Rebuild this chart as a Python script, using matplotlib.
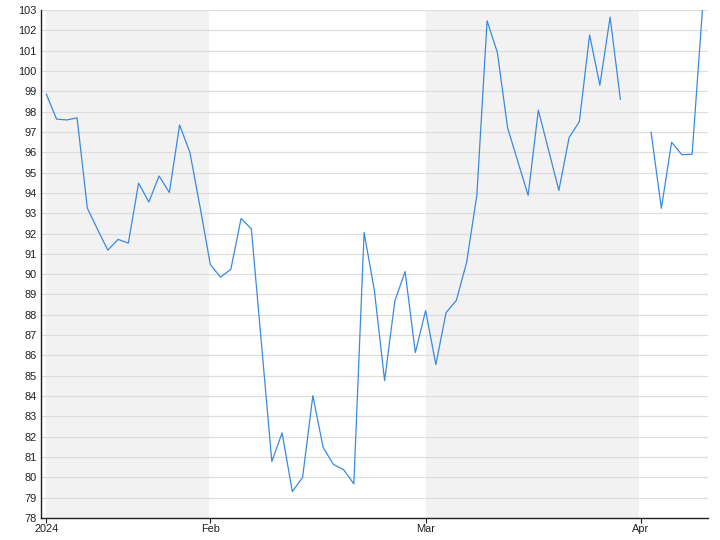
import numpy as np
import pandas as pd
import matplotlib
matplotlib.use("Agg")
import matplotlib.pyplot as plt

# Business-day dates (Jan 10 - Apr 9, 2024); NaN marks market holidays
dates = pd.bdate_range("2024-01-10", "2024-04-09")
values = [
    98.86, 97.63, 97.59, 97.69, 93.25, 92.2, 91.18, 91.71, 91.53, 94.48,
    93.55, 94.83, 94.02, 97.34, 96.0, 93.3,
    90.47, 89.85, 90.24, 92.74, 92.23, 86.5, 80.78, 82.19, 79.3, 80.0,
    84.02, 81.48, 80.64, 80.38, 79.68, 92.05, 89.21, 84.76, 88.68, 90.13,
    86.14,
    88.21, 85.55, 88.11, 88.71, 90.57, 93.89, 102.47, 100.91, 97.2, 95.54,
    93.88, 98.07, 96.1, 94.12, 96.72, 97.51, 101.77, 99.3, 102.65, 98.61,
    np.nan,
    np.nan, 96.98, 93.24, 96.49, 95.88, 95.9, 102.97,
]
tick_labels = ["2024", "Feb", "Mar", "Apr"]
tick_dates = ["2024-01-10", "2024-02-01", "2024-03-01", "2024-04-01"]
shaded_months = [("2024-01-10", "2024-02-01"), ("2024-03-01", "2024-04-01")]

idx = np.arange(len(dates))
pos = {d: i for i, d in enumerate(dates)}

plt.rcParams['font.family'] = ['Liberation Sans', 'DejaVu Sans']
fig = plt.figure(figsize=(7.2, 5.4), dpi=100)
ax = fig.add_axes([41 / 720, 1 - 518 / 540, (708 - 41) / 720, (518 - 10) / 540])

for a, b in shaded_months:
    ax.axvspan(pos[pd.Timestamp(a)], pos[pd.Timestamp(b)] - 0.15, color="#f2f2f2", lw=0, zorder=0)

ax.set_ylim(78, 103)
ax.set_yticks(np.arange(78, 104, 1))
ax.yaxis.grid(True, color="#dddddd", lw=0.9, zorder=1)
ax.set_axisbelow(True)

ax.plot(idx, values, color="#3a8ae0", lw=0.9, zorder=3)

ax.set_xlim(-0.52, len(dates) - 0.45)
ax.set_xticks([pos[pd.Timestamp(t)] for t in tick_dates])
ax.set_xticklabels(tick_labels)

for s in ["top", "right"]:
    ax.spines[s].set_visible(False)
for s in ["left", "bottom"]:
    ax.spines[s].set_color("#222222")
    ax.spines[s].set_linewidth(1.0)

ax.tick_params(axis="y", length=0, pad=3, labelsize=7.9, labelcolor="#222222")
ax.tick_params(axis="x", length=3.5, width=0.8, pad=1, labelsize=7.9, labelcolor="#222222",
               color="#222222")

fig.savefig("out.png", dpi=100)
